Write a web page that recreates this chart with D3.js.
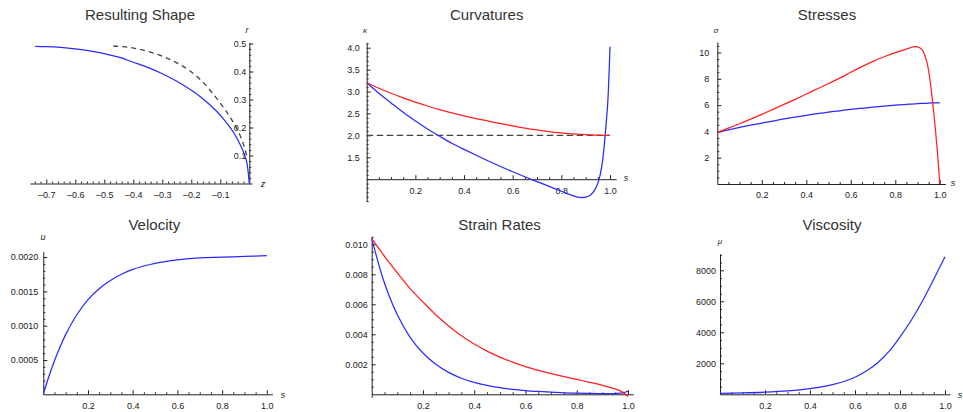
<!DOCTYPE html>
<html><head><meta charset="utf-8">
<script src="https://cdn.jsdelivr.net/npm/d3@7"></script>
<style>
html,body{margin:0;padding:0;background:#fff;}
svg{display:block;}
</style></head>
<body>
<svg id="c" width="963" height="412"></svg>
<script>
// ---------------- data ----------------
const titles = ["Resulting Shape","Curvatures","Stresses","Velocity","Strain Rates","Viscosity"];

// Resulting shape (z, r)
const shapeZ = [-0.738,-0.70,-0.65,-0.60,-0.55,-0.50,-0.45,-0.40,-0.35,-0.30,-0.25,-0.20,-0.17,-0.14,-0.112,-0.09,-0.067,-0.05,-0.032,-0.02,-0.009,0];
const shapeR = [0.490,0.489,0.486,0.481,0.474,0.464,0.451,0.433,0.415,0.392,0.365,0.333,0.311,0.285,0.257,0.232,0.201,0.175,0.140,0.112,0.077,0.0];
const refZ = [-0.469,-0.42,-0.377,-0.33,-0.285,-0.25,-0.216,-0.185,-0.159,-0.135,-0.112,-0.09,-0.07,-0.055,-0.043,-0.032,-0.023,-0.015,-0.008];
const refR = [0.491,0.487,0.479,0.466,0.448,0.431,0.410,0.386,0.361,0.333,0.303,0.273,0.243,0.218,0.196,0.172,0.148,0.122,0.094];
const shapeXTicks = [-0.7,-0.6,-0.5,-0.4,-0.3,-0.2,-0.1];
const shapeYTicks = [0.1,0.2,0.3,0.4,0.5];

// Curvatures
const curvS    = [0,0.05,0.1,0.15,0.2,0.25,0.3,0.35,0.4,0.45,0.5,0.55,0.6,0.65,0.7,0.75,0.8,0.85,0.875,0.9,0.92,0.94,0.95,0.96,0.97,0.98,0.99,0.995,1.0];
const curvBlue = [3.20,2.96,2.74,2.525,2.33,2.145,1.98,1.82,1.68,1.545,1.415,1.29,1.17,1.055,0.945,0.835,0.725,0.62,0.585,0.59,0.64,0.78,0.91,1.11,1.44,2.0,2.68,3.25,4.02];
const curvRed  = [3.20,3.075,2.96,2.855,2.758,2.67,2.588,2.513,2.445,2.383,2.325,2.268,2.215,2.167,2.125,2.088,2.058,2.033,2.024,2.016,2.011,2.007,2.005,2.003,2.002,2.001,2.0,2.0,2.0];
const curvRefS = [0,1.0];
const curvRef  = [2.0,2.0];
const curvTicks = [1.5,2.0,2.5,3.0,3.5,4.0];

// Stresses
const stressS    = [0,0.05,0.1,0.15,0.2,0.25,0.3,0.35,0.4,0.45,0.5,0.55,0.6,0.65,0.7,0.75,0.8,0.85,0.875,0.885,0.9,0.92,0.94,0.95,0.96,0.97,0.98,0.99,1.0];
const stressRed  = [3.93,4.25,4.58,4.93,5.30,5.67,6.05,6.44,6.84,7.24,7.64,8.05,8.50,8.93,9.33,9.68,9.99,10.26,10.40,10.45,10.43,10.22,9.40,8.60,7.35,5.90,4.20,2.30,0];
const stressBlue = [3.93,4.12,4.30,4.47,4.63,4.79,4.95,5.09,5.22,5.35,5.47,5.57,5.67,5.76,5.85,5.93,6.00,6.06,6.08,6.09,6.11,6.13,6.14,6.15,6.16,6.16,6.17,6.17,6.18];
const stressTicks = [2,4,6,8,10];

// Velocity
const velS = [0,0.025,0.05,0.075,0.1,0.15,0.2,0.25,0.3,0.35,0.4,0.45,0.5,0.6,0.7,0.8,0.9,1.0];
const velU = [0,0.00026,0.00049,0.00069,0.00087,0.00116,0.00138,0.00154,0.00166,0.00175,0.00182,0.00187,0.00191,0.00196,0.00199,0.00200,0.00201,0.00202];
const velTicks = [0.0005,0.0010,0.0015,0.0020];

// Strain rates
const rateS    = [0,0.05,0.1,0.15,0.2,0.25,0.3,0.35,0.4,0.45,0.5,0.55,0.6,0.65,0.7,0.75,0.8,0.85,0.9,0.95,0.98,1.0];
const rateRed  = [0.0104,0.0092,0.0081,0.00705,0.00615,0.0053,0.00455,0.0039,0.00335,0.00288,0.00248,0.00214,0.00185,0.0016,0.00138,0.00118,0.00099,0.0008,0.0006,0.00036,0.00013,-0.00015];
const rateBlue = [0.0104,0.0074,0.0053,0.0038,0.00275,0.0020,0.00146,0.00107,0.00079,0.00059,0.00044,0.00033,0.00025,0.00019,0.00014,0.0001,0.00008,0.00006,0.00005,0.00005,0.00009,0.00022];
const rateTicks = [0.002,0.004,0.006,0.008,0.010];

// Viscosity
const viscS  = [0,0.1,0.2,0.3,0.4,0.5,0.6,0.65,0.7,0.75,0.8,0.85,0.9,0.95,1.0];
const viscMu = [65,90,135,215,360,620,1100,1500,2020,2750,3700,4780,6020,7420,8880];
const viscTicks = [2000,4000,6000,8000];

const sTicks = [0.2,0.4,0.6,0.8,1.0];

// ---------------- drawing ----------------
const svg = d3.select("#c");
const FONT = "'Liberation Sans', Arial, sans-serif";
const BLUE = "#2a2aff", RED = "#ff2020", DASH = "#444";

function minorTicks(lo, hi, step, majors) {
  const n0 = Math.ceil(lo/step - 1e-9), n1 = Math.floor(hi/step + 1e-9);
  const out = [];
  for (let i = n0; i <= n1; i++) {
    const v = +(i*step).toFixed(8);
    if (Math.abs(v) < 1e-12) continue;
    if (majors.some(m => Math.abs(m - v) < step*1e-3)) continue;
    out.push(v);
  }
  return out;
}

function panel(cfg) {
  const x = d3.scaleLinear().domain(cfg.xCal).range(cfg.xPx);
  const y = d3.scaleLinear().domain(cfg.yCal).range(cfg.yPx);
  x.range([x(cfg.xExt[0]), x(cfg.xExt[1])]).domain(cfg.xExt);
  y.range([y(cfg.yExt[0]), y(cfg.yExt[1])]).domain(cfg.yExt);
  const g = svg.append("g");

  const ax = y(cfg.xAxisAt), ay = x(0);
  g.append("g").attr("transform", `translate(0,${ax})`)
    .call(d3.axisBottom(x).tickValues(minorTicks(cfg.xExt[0], cfg.xExt[1], cfg.xMinor, cfg.xTicks)).tickSizeInner(-2).tickSizeOuter(0).tickFormat(""))
    .call(s => s.select(".domain").remove());
  g.append("g").attr("transform", `translate(${ay},0)`)
    .call(d3.axisLeft(y).tickValues(minorTicks(cfg.yExt[0], cfg.yExt[1], cfg.yMinor, cfg.yTicks)).tickSizeInner(-2).tickSizeOuter(0).tickFormat(""))
    .call(s => s.select(".domain").remove());
  const xa = g.append("g").attr("transform", `translate(0,${ax})`)
    .call(d3.axisBottom(x).tickValues(cfg.xTicks).tickSizeInner(-4).tickSizeOuter(0).tickPadding(8).tickFormat(cfg.xFmt));
  const ya = g.append("g").attr("transform", `translate(${ay},0)`)
    .call(d3.axisLeft(y).tickValues(cfg.yTicks).tickSizeInner(-4).tickSizeOuter(0).tickPadding(cfg.yPad).tickFormat(cfg.yFmt));
  [xa, ya].forEach(a => {
    a.attr("font-family", FONT).attr("font-size", 9);
    a.selectAll("text").attr("fill", "#222");
    a.selectAll("path").attr("stroke", "#222");
  });
  g.selectAll("line").attr("stroke", "#222");

  const line = d3.line().x(d => x(d[0])).y(d => y(d[1])).curve(d3.curveCatmullRom.alpha(0.5));
  cfg.series.forEach(s => {
    const p = g.append("path").datum(d3.zip(s.x, s.y)).attr("d", line)
      .attr("fill", "none").attr("stroke", s.color).attr("stroke-width", s.w || 1.25);
    if (s.dash) p.attr("stroke-dasharray", s.dash);
  });

  (cfg.labels || []).forEach(l => {
    g.append("text").attr("x", l.x).attr("y", l.y).attr("text-anchor", "middle")
      .attr("font-family", FONT).attr("font-size", l.size || 9).attr("font-style", "italic")
      .attr("fill", "#222").text(l.t);
  });
  g.append("text").attr("x", cfg.title[0]).attr("y", cfg.title[1]).attr("text-anchor", "middle")
    .attr("font-family", FONT).attr("font-size", 15).attr("fill", "#333").text(cfg.title[2]);
}

const f1 = d => d3.format(".1f")(d);
const fNeg = d => d3.format(".1f")(d).replace("−", "–").replace("-", "–");

panel({
  xCal: [-0.7, 0], xPx: [46.3, 249.3], xExt: [-0.756, 0.009],
  yCal: [0, 0.5], yPx: [183.5, 43.5], yExt: [0, 0.504],
  xAxisAt: 0, xTicks: shapeXTicks, xMinor: 0.02, xFmt: fNeg,
  yTicks: shapeYTicks, yMinor: 0.02, yFmt: f1, yPad: 3,
  series: [
    {x: refZ, y: refR, color: DASH, dash: "5,4", w: 1.3},
    {x: shapeZ, y: shapeR, color: BLUE}
  ],
  labels: [{t: "r", x: 247, y: 33}, {t: "z", x: 263, y: 187}],
  title: [140, 19.5, titles[0]]
});

panel({
  xCal: [0, 1], xPx: [366.7, 610], xExt: [0, 1.025],
  yCal: [1, 4], yPx: [179.2, 47.7], yExt: [0.5, 4.12],
  xAxisAt: 1, xTicks: sTicks, xMinor: 0.05, xFmt: f1,
  yTicks: curvTicks, yMinor: 0.1, yFmt: f1, yPad: 7,
  series: [
    {x: curvRefS, y: curvRef, color: DASH, dash: "6.5,3.5", w: 1.3},
    {x: curvS, y: curvBlue, color: BLUE},
    {x: curvS, y: curvRed, color: RED}
  ],
  labels: [{t: "κ", x: 365, y: 33, size: 8}, {t: "s", x: 626, y: 181}],
  title: [486.7, 19.5, titles[1]]
});

panel({
  xCal: [0, 1], xPx: [717.3, 939.8], xExt: [0, 1.025],
  yCal: [0, 10], yPx: [184, 52.5], yExt: [0, 10.8],
  xAxisAt: 0, xTicks: sTicks, xMinor: 0.05, xFmt: f1,
  yTicks: stressTicks, yMinor: 0.5, yFmt: d => d3.format("d")(d), yPad: 8,
  series: [
    {x: stressS, y: stressBlue, color: BLUE},
    {x: stressS, y: stressRed, color: RED}
  ],
  labels: [{t: "σ", x: 716, y: 33, size: 8}, {t: "s", x: 953, y: 186}],
  title: [827, 19.5, titles[2]]
});

panel({
  xCal: [0, 1], xPx: [43.3, 266.8], xExt: [0, 1.025],
  yCal: [0, 0.002], yPx: [394.3, 257.1], yExt: [0, 0.00208],
  xAxisAt: 0, xTicks: sTicks, xMinor: 0.05, xFmt: f1,
  yTicks: velTicks, yMinor: 0.0001, yFmt: d => d3.format(".4f")(d), yPad: 5,
  series: [{x: velS, y: velU, color: BLUE}],
  labels: [{t: "u", x: 43, y: 240}, {t: "s", x: 283, y: 398}],
  title: [154.3, 229.5, titles[3]]
});

panel({
  xCal: [0, 1], xPx: [371.7, 628], xExt: [0, 1.02],
  yCal: [0, 0.01], yPx: [394.3, 244.3], yExt: [-0.0002, 0.0105],
  xAxisAt: 0, xTicks: sTicks, xMinor: 0.05, xFmt: f1,
  yTicks: rateTicks, yMinor: 0.0005, yFmt: d => d3.format(".3f")(d), yPad: 4,
  series: [
    {x: rateS, y: rateBlue, color: BLUE},
    {x: rateS, y: rateRed, color: RED}
  ],
  labels: [],
  title: [499.5, 229.5, titles[4]]
});

panel({
  xCal: [0, 1], xPx: [720, 945], xExt: [0, 1.022],
  yCal: [0, 8000], yPx: [394.3, 270.3], yExt: [0, 9050],
  xAxisAt: 0, xTicks: sTicks, xMinor: 0.05, xFmt: f1,
  yTicks: viscTicks, yMinor: 500, yFmt: d => d3.format("d")(d), yPad: 4,
  series: [{x: viscS, y: viscMu, color: BLUE}],
  labels: [{t: "μ", x: 720, y: 244, size: 8}, {t: "s", x: 960, y: 398}],
  title: [832, 229.5, titles[5]]
});
</script>
</body></html>
